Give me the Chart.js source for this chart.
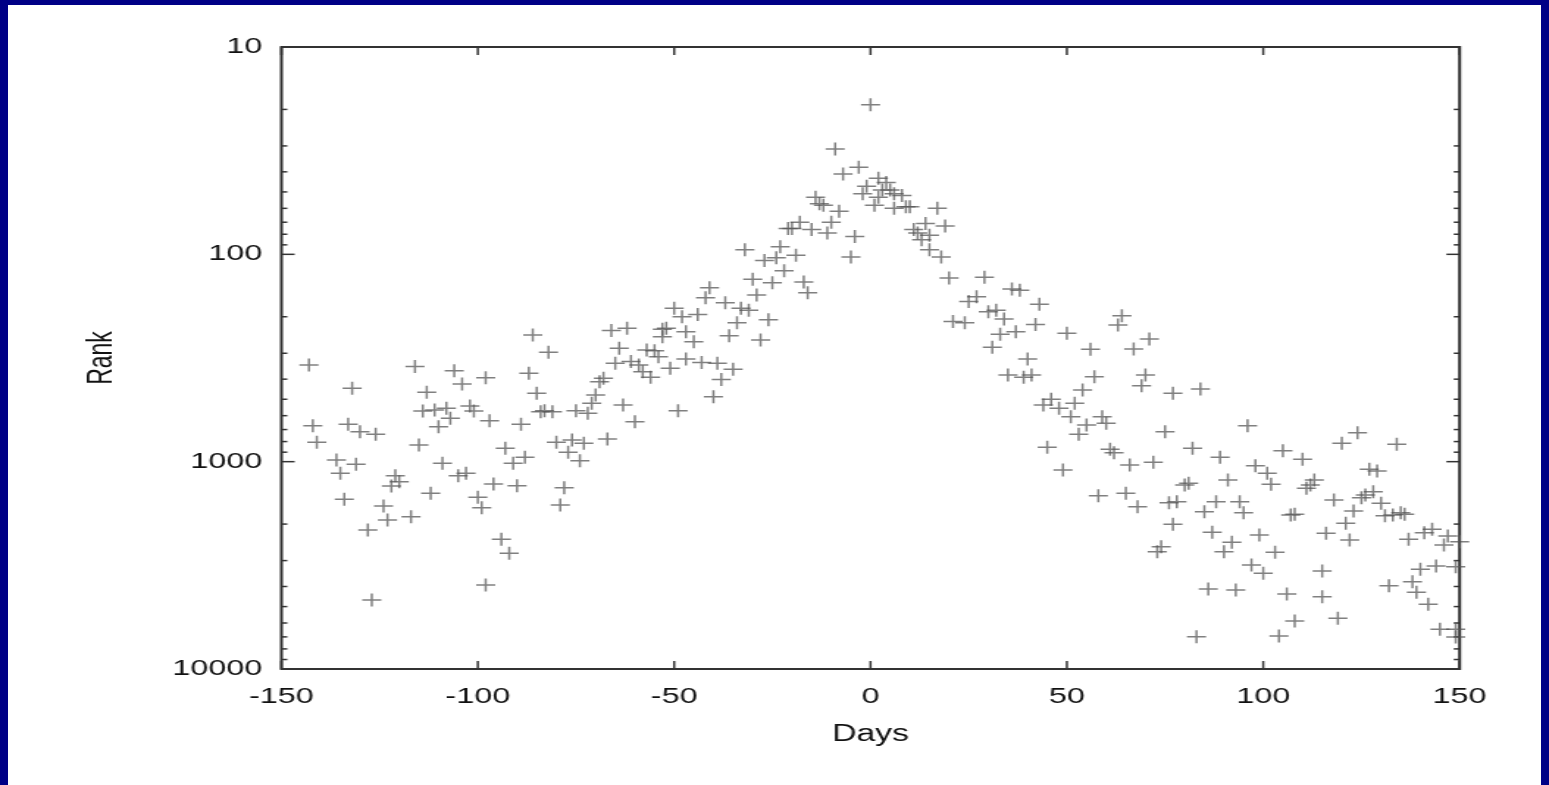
<!DOCTYPE html>
<html>
<head>
<meta charset="utf-8">
<title>Rank vs Days</title>
<script src="https://cdn.jsdelivr.net/npm/chart.js@4.4.0/dist/chart.umd.min.js"></script>
<style>
    html, body {
        margin: 0;
        padding: 0;
        width: 1549px;
        height: 785px;
        overflow: hidden;
        background: #000086;
    }
    #panel {
        position: absolute;
        left: 8px;
        top: 5px;
        width: 1533px;
        height: 780px;
        background: #fff;
    }
    /* the plot is drawn narrow and stretched sideways, like the slide it sits on */
    #wrap {
        position: absolute;
        left: 0;
        top: 0;
        width: 1054px;
        height: 785px;
        transform: scaleX(1.4696);
        transform-origin: 0 0;
    }
</style>
</head>
<body>
<div id="panel"></div>
<div id="wrap"><canvas id="rankChart" width="1054" height="785"></canvas></div>

<script>
// Day offset of each sample and its rank on that day
const days = [
    -143, -132, -116, -106, -104, -98, -113, -142, -133, -130,
    -126, -141, -114, -111, -108, -102, -101, -107, -110, -115,
    -97, -136, -131, -135, -109, -121, -120, -122, -105, -103,
    -112, -134, -124, -123, -117, -128, -100, -99, -98, -127, -96,
    -86, -82, -87, -85, -84, -83, -81, -89, -93, -91,
    -88, -90, -78, -79, -94, -92, -80, -76, -73, -77,
    -74, -67, -75, -72, -71, -70, -69, -68, -63, -60,
    -66, -62, -64, -65, -61, -59, -58, -56, -57, -55,
    -54, -51, -49, -53, -52, -53, -50, -48, -47, -47,
    -9, -7, -3, 2, -1, -2, 1, -14, -13, -12,
    -8, -10, -11, -4, -5, -18, -21, -20, -15, -23,
    -32, -27, -24, -19, -22, -30, -25, -17, -16, -29,
    -41, -42, -37, -33, -31, -44, -34, -26, -45, -36,
    -28, -43, -39, -35, -38, -40,
    0, 4, 3, 5, 6, 8, 2, 6, 9, 10,
    17, 14, 19, 11, 12, 15, 13, 15, 18, 20, 29, 27,
    25, 30, 32, 21, 24, 31,
    36, 38, 43, 34, 42, 37, 33, 50, 64, 63,
    71, 67, 56, 40, 35, 39, 41, 57, 70, 69,
    54, 77, 46, 44, 48, 52, 51, 55, 53, 59,
    60, 75, 45, 61, 62, 66, 72, 49, 58, 65,
    68, 76, 78, 77,
    73, 74,
    84, 96, 82, 89, 105, 110, 98, 101, 102, 80,
    81, 91, 113, 111, 112, 88, 94, 95, 85, 107,
    108, 87, 92, 90, 99, 103, 116, 97, 100, 115,
    86, 93, 106, 115, 108, 83, 104,
    124, 120, 134, 127, 129, 118, 125, 128, 126, 130,
    123, 131, 133, 135, 136, 121, 122, 137, 141, 143,
    147, 146, 150, 140, 144, 149, 132, 138, 139, 142,
    119, 145, 149, 149
];

const ranks = [
    342, 443, 348, 364, 422, 394, 463, 671, 660, 717,
    738, 806, 570, 563, 553, 539, 570, 618, 678, 831,
    635, 982, 1030, 1138, 1018, 1168, 1249, 1310, 1168, 1138,
    1421, 1518, 1636, 1911, 1843, 2136, 1485, 1667, 3934, 4647, 1281,
    245, 297, 375, 468, 574, 568, 574, 660, 862, 1018,
    952, 1306, 1336, 1618, 2368, 2766, 806, 786, 815, 901,
    989, 777, 568, 584, 523, 477, 412, 396, 533, 642,
    233, 227, 284, 335, 329, 342, 368, 392, 289, 292,
    312, 354, 568, 230, 227, 250, 182, 200, 236, 320,
    31, 41, 38, 43, 47, 51, 58, 53, 57, 58,
    62, 70, 79, 82, 103, 70, 75, 75, 76, 92,
    95, 107, 104, 101, 120, 132, 137, 136, 153, 157,
    145, 162, 171, 182, 186, 195, 214, 207, 264, 247,
    259, 332, 335, 358, 401, 486,
    19, 45, 49, 49, 51, 52, 53, 60, 59, 59,
    60, 71, 73, 76, 79, 81, 85, 95, 103, 130, 129, 160,
    169, 189, 186, 211, 214, 281,
    147, 149, 174, 205, 218, 236, 243, 240, 198, 219,
    256, 286, 287, 320, 382, 392, 382, 389, 382, 430,
    451, 468, 500, 533, 553, 523, 607, 666, 738, 607,
    653, 717, 852, 871, 905, 1038, 1007, 1097, 1459, 1421,
    1649, 1577, 1560, 2004,
    2717, 2570,
    446, 671, 862, 952, 885, 974, 1046, 1138, 1285, 1296,
    1272, 1226, 1226, 1344, 1296, 1560, 1560, 1762, 1743, 1808,
    1794, 2191, 2447, 2717, 2258, 2735, 2215, 3150, 3454, 3368,
    4113, 4158, 4347, 4479, 5866, 6985, 6930,
    725, 815, 824, 1089, 1109, 1530, 1492, 1396, 1448, 1588,
    1730, 1822, 1808, 1762, 1794, 1983, 2386, 2368, 2201, 2119,
    2283, 2523, 2431, 3306, 3185, 3210, 3965, 3793, 4266, 4875,
    5692, 6434, 6434, 7007
];

// Axis ticks
const dayTicks = [-150, -100, -50, 0, 50, 100, 150];
const rankTicks = [10, 100, 1000, 10000];

const FONT = "'Liberation Sans', Arial, Helvetica, sans-serif";
const INK = '#111';

// Box round the plot with inward tick marks (gnuplot style)
const frameTicks = {
    id: 'frameTicks',
    beforeDatasetsDraw(chart) {
        const { ctx, chartArea: a, scales: { x, y } } = chart;
        ctx.save();
        ctx.strokeStyle = '#333';

        const line = (x1, y1, x2, y2) => {
            ctx.beginPath();
            ctx.moveTo(x1, y1);
            ctx.lineTo(x2, y2);
            ctx.stroke();
        };

        // day ticks on bottom and top edges
        ctx.lineWidth = 1.5;
        dayTicks.forEach(v => {
            const px = x.getPixelForValue(v);
            line(px, a.bottom, px, a.bottom - 8);
            line(px, a.top, px, a.top + 8);
        });

        // rank ticks, long at each decade and short in between
        for (let i = 0; i < rankTicks.length - 1; i++) {
            const base = rankTicks[i];
            for (let k = 1; k <= 9; k++) {
                const py = y.getPixelForValue(base * k);
                const len = k === 1 ? 9 : 4;
                line(a.left, py, a.left + len, py);
                line(a.right, py, a.right - len, py);
            }
        }

        ctx.lineWidth = 2;
        ctx.strokeRect(a.left, a.top, a.right - a.left, a.bottom - a.top);
        ctx.restore();
    }
};

function createRankChart() {
    const points = days.map((d, i) => ({ x: d, y: ranks[i] }));
    const ctx = document.getElementById('rankChart').getContext('2d');

    new Chart(ctx, {
        type: 'scatter',
        data: {
            datasets: [{
                label: 'Rank',
                data: points,
                pointStyle: 'cross',
                pointRadius: 6.5,
                pointHoverRadius: 6.5,
                borderColor: 'rgba(85, 85, 85, 0.75)',
                backgroundColor: 'rgba(85, 85, 85, 0.75)',
                borderWidth: 1.5,
                clip: false
            }]
        },
        options: {
            responsive: false,
            animation: false,
            devicePixelRatio: 1,
            layout: {
                padding: { left: 0, right: 60.8, top: 47, bottom: 36 }
            },
            plugins: {
                legend: { display: false },
                tooltip: { enabled: false }
            },
            scales: {
                x: {
                    type: 'linear',
                    min: -150,
                    max: 150,
                    grid: { display: false, drawTicks: false },
                    border: { display: false },
                    afterBuildTicks: scale => {
                        scale.ticks = dayTicks.map(v => ({ value: v }));
                    },
                    afterFit: scale => { scale.height = 80; },
                    ticks: {
                        padding: 15,
                        color: INK,
                        font: { family: FONT, size: 22 },
                        callback: v => String(v)
                    },
                    title: {
                        display: true,
                        text: 'Days',
                        color: INK,
                        font: { family: FONT, size: 23 },
                        padding: { top: 0, bottom: 1 }
                    }
                },
                y: {
                    type: 'logarithmic',
                    reverse: true,
                    min: 10,
                    max: 10000,
                    grid: { display: false, drawTicks: false },
                    border: { display: false },
                    afterBuildTicks: scale => {
                        scale.ticks = rankTicks.map(v => ({ value: v }));
                    },
                    afterFit: scale => { scale.width = 191.5; },
                    ticks: {
                        padding: 13,
                        color: INK,
                        font: { family: FONT, size: 22 },
                        callback: v => String(v)
                    },
                    title: {
                        display: true,
                        text: 'Rank',
                        color: INK,
                        font: { family: FONT, size: 23 },
                        padding: { top: 56, bottom: 0 }
                    }
                }
            }
        },
        plugins: [frameTicks]
    });
}

createRankChart();
</script>
</body>
</html>
